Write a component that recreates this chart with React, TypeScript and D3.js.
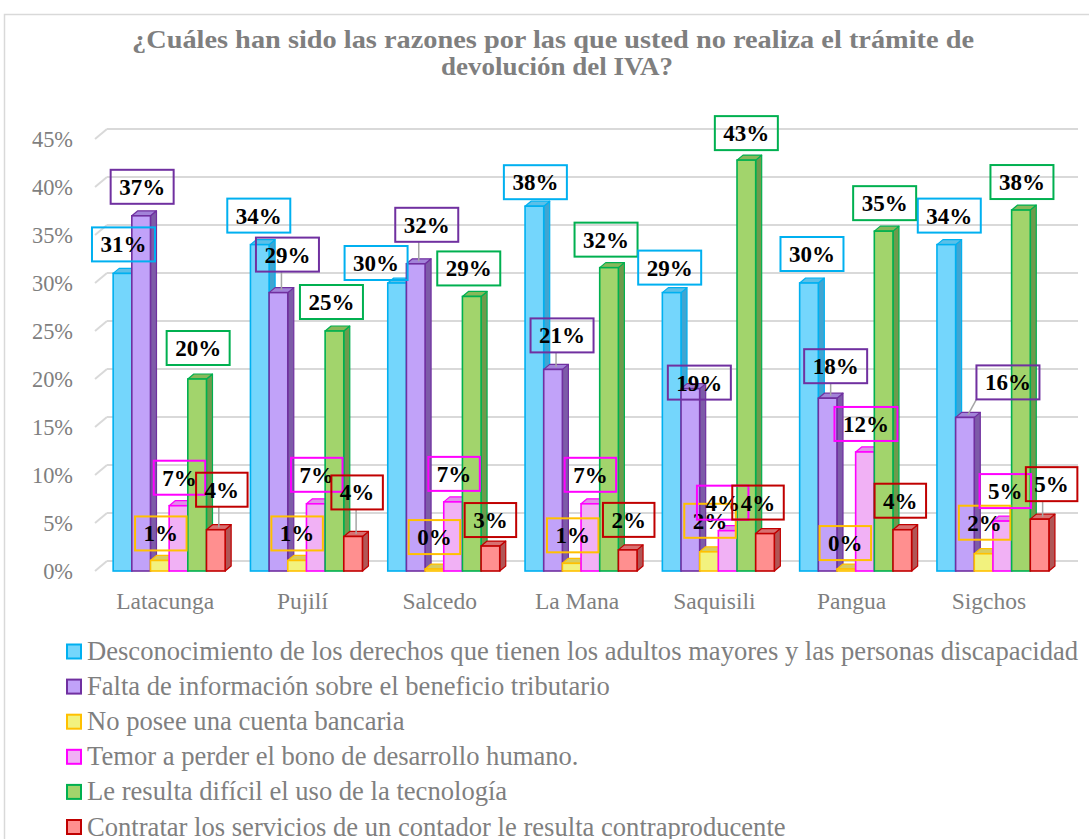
import React from 'react';
import * as d3 from 'd3';

const categories = ['Latacunga', 'Pujilí', 'Salcedo', 'La Mana', 'Saquisili', 'Pangua', 'Sigchos'];
const seriesNames = [
  'Desconocimiento de los derechos que tienen los adultos mayores y las personas discapacidad',
  'Falta de información sobre el beneficio tributario',
  'No posee una cuenta bancaria',
  'Temor a perder el bono de desarrollo humano.',
  'Le resulta difícil el uso de la tecnología',
  'Contratar los servicios de un contador le resulta contraproducente',
];
const titleLines = [
  '¿Cuáles han sido las razones por las que usted no realiza el trámite de',
  'devolución del IVA?',
];
const desconocimiento = [0.31, 0.34, 0.30, 0.38, 0.29, 0.30, 0.34];
const faltaInformacion = [0.37, 0.29, 0.32, 0.21, 0.19, 0.18, 0.16];
const noCuentaBancaria = [0.011, 0.011, 0.002, 0.008, 0.02, 0.002, 0.018];
const temorBono = [0.068, 0.07, 0.072, 0.07, 0.042, 0.124, 0.052];
const dificilTecnologia = [0.2, 0.25, 0.286, 0.316, 0.428, 0.354, 0.376];
const contratarContador = [0.043, 0.036, 0.026, 0.022, 0.039, 0.043, 0.054];
const seriesValues = [desconocimiento, faltaInformacion, noCuentaBancaria, temorBono, dificilTecnologia, contratarContador];
const yTicks = [0, 0.05, 0.1, 0.15, 0.2, 0.25, 0.3, 0.35, 0.4, 0.45];

// styles per series
const fills = ['#74D6FC', '#C1A2F9', '#F2F27E', '#F1B1F5', '#A2D46C', '#FF8F8F'];
const tops = ['#5CC0E8', '#A283D9', '#D8CC60', '#E090E8', '#88B85A', '#D87070'];
const sides = ['#3FA5D2', '#7D5BA8', '#C8B040', '#C870D0', '#6E9A4C', '#B05656'];
const strokes = ['#00B0F0', '#7030A0', '#FFC000', '#FF00FF', '#00B050', '#C00000'];

// label placement nudges [dx, dy, leader] per series per category (layout only)
const labelNudge: number[][][] = [
  [[0, 0, 0], [-2, 0, 0], [-22, 9, 0], [0, 5, 0], [-3, 4, 0], [2, 0, 0], [2, 0, 0]],
  [[0, 0, 0], [8, -9, 1], [10, -10, 1], [8, -5, 1], [8, 23, 0], [7, -3, 1], [42, -6, 1]],
  [[0, 2, 0], [-1, 2, 0], [-1, -3, 0], [0, 1, 0], [0, -2, 0], [-2, 3, 0], [0, -2, 0]],
  [[0, 1, 0], [0, 0, 0], [0, 1, 0], [-1, 0, 0], [-6, 1, 0], [0, 1, 0], [2, -1, 0]],
  [[0, -2, 0], [-4, 0, 0], [-4, 1, 0], [-4, 1, 0], [-1, 2, 0], [0, 1, 0], [0, 1, 0]],
  [[5, -11, 1], [3, -15, 1], [-1, 3, 0], [0, -1, 0], [-8, -2, 0], [-3, 0, 0], [11, -6, 1]],
];

const W = 1089;
const H = 839;
const SERIF = '"Liberation Serif"';
const GRAY = '#7f7f7f';

export default function App() {
  const y = d3.scaleLinear().domain([0, 0.45]).range([571, 139]);
  const x = d3.scaleBand<string>().domain(categories).range([100.5, 1061.6]).paddingInner(0).paddingOuter(0);
  const groupW = 112;
  const bdx = 6;
  const bdy = -5;
  const wdx = 12;
  const wdy = -10;
  const axisX = 95;
  const labelFont = 23;

  const inner = d3.scaleBand<number>().domain(d3.range(seriesNames.length)).range([0, groupW]);
  const bw = inner.bandwidth();

  const bars: React.ReactNode[] = [];
  const labels: React.ReactNode[] = [];

  categories.forEach((cat, ci) => {
    const cx = (x(cat) as number) + x.bandwidth() / 2;
    const gx = cx - groupW / 2;
    seriesValues.forEach((vals, si) => {
      const v = vals[ci];
      const x0 = gx + (inner(si) as number);
      const x1 = x0 + bw;
      const yt = y(v);
      const yb = y(0);
      const key = `${ci}-${si}`;
      bars.push(
        <g key={key}>
          <polygon
            points={`${x1},${yb} ${x1 + bdx},${yb + bdy} ${x1 + bdx},${yt + bdy} ${x1},${yt}`}
            fill={sides[si]} stroke={strokes[si]} strokeWidth={1.2} strokeLinejoin="round" />
          <polygon
            points={`${x0},${yt} ${x0 + bdx},${yt + bdy} ${x1 + bdx},${yt + bdy} ${x1},${yt}`}
            fill={tops[si]} stroke={strokes[si]} strokeWidth={1.2} strokeLinejoin="round" />
          <rect x={x0} y={yt} width={bw} height={Math.max(0, yb - yt)}
            fill={fills[si]} stroke={strokes[si]} strokeWidth={1.6} />
        </g>
      );

      const txt = `${Math.round(v * 100)}%`;
      const [ndx, ndy, leader] = labelNudge[si][ci];
      const bc = x0 + bw / 2 + bdx / 2;
      const lx = bc - 2 + ndx;
      const ly = yt - 29 + ndy;
      const tw = (txt.length === 2 ? 1.5 : 2.0) * labelFont;
      const boxW = tw + 17;
      const boxH = 34;
      const bl = lx - boxW / 2;
      const bt = ly - boxH / 2;
      let leaderEl: React.ReactNode = null;
      if (leader) {
        const px = bc;
        const py = yt + bdy / 2;
        const qx = Math.max(bl, Math.min(bl + boxW, px));
        const qy = Math.max(bt, Math.min(bt + boxH, py));
        leaderEl = <line x1={px} y1={py} x2={qx} y2={qy} stroke="#a6a6a6" strokeWidth={1.5} />;
      }
      labels.push(
        <g key={`l${key}`}>
          {leaderEl}
          <rect x={bl} y={bt} width={boxW} height={boxH} fill="none" stroke={strokes[si]} strokeWidth={2} />
          <text x={lx} y={ly + 8} textAnchor="middle" fontFamily={SERIF} fontWeight={700}
            fontSize={labelFont} fill="#000">{txt}</text>
        </g>
      );
    });
  });

  return (
    <svg width={W} height={H} style={{ position: 'absolute', left: 0, top: 0, background: '#fff' }}>
      <rect x={0} y={0} width={W} height={H} fill="#fff" />
      <rect x={4.5} y={14.5} width={W + 20} height={H + 20} fill="#fff" stroke="#d9d9d9" strokeWidth={1.5} />

      <text x={553} y={48} textAnchor="middle" fontFamily={SERIF} fontWeight={700} fontSize={26} fill={GRAY}
        textLength={842} lengthAdjust="spacingAndGlyphs">
        {titleLines[0]}
      </text>
      <text x={557} y={75} textAnchor="middle" fontFamily={SERIF} fontWeight={700} fontSize={26} fill={GRAY}
        textLength={232} lengthAdjust="spacingAndGlyphs">
        {titleLines[1]}
      </text>

      {/* gridlines on back wall */}
      {yTicks.map((t) => {
        const yy = y(t);
        return (
          <g key={`g${t}`}>
            <line x1={axisX} y1={yy} x2={axisX + wdx} y2={yy + wdy} stroke="#d9d9d9" strokeWidth={2} />
            <line x1={axisX + wdx} y1={yy + wdy} x2={1078} y2={yy + wdy} stroke="#d9d9d9" strokeWidth={2} />
          </g>
        );
      })}

      {/* y axis labels */}
      {yTicks.map((t) => (
        <text key={`t${t}`} x={73} y={y(t) + 7.5} textAnchor="end" fontFamily={SERIF} fontSize={22.4} fill={GRAY}>
          {d3.format('.0%')(t)}
        </text>
      ))}

      {bars}
      {labels}

      {/* category labels */}
      {categories.map((c) => (
        <text key={`c${c}`} x={(x(c) as number) + x.bandwidth() / 2 - 4} y={609} textAnchor="middle"
          fontFamily={SERIF} fontSize={23.5} fill={GRAY}>{c}</text>
      ))}

      {/* legend */}
      {seriesNames.map((n, i) => {
        const cy = 651.5 + i * 35.1;
        return (
          <g key={`lg${i}`}>
            <rect x={67} y={cy - 7} width={14} height={14} fill={fills[i]} stroke={strokes[i]} strokeWidth={2} />
            <text x={87} y={cy + 8.5} fontFamily={SERIF} fontSize={26.6} fill={GRAY}>{n}</text>
          </g>
        );
      })}
    </svg>
  );
}
